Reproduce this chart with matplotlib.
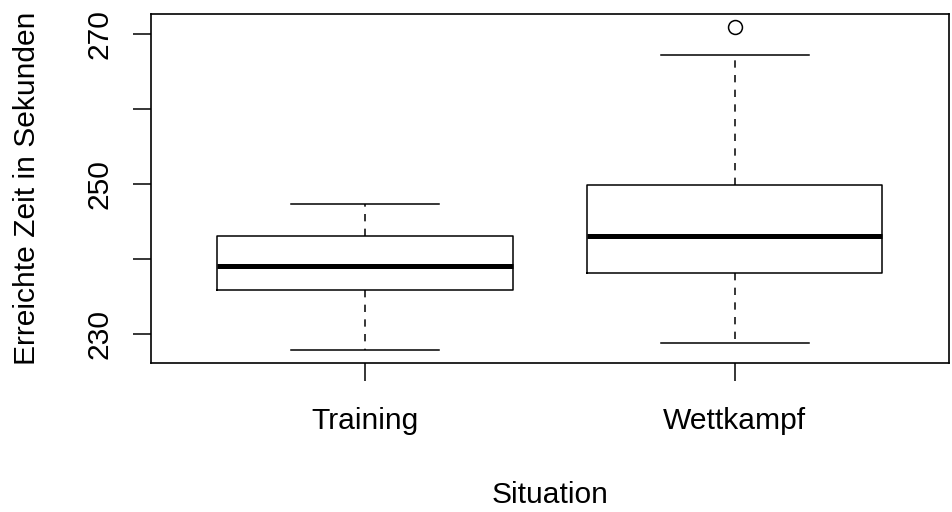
import matplotlib
matplotlib.use("Agg")
import matplotlib.pyplot as plt

plt.rcParams['font.family'] = ['Liberation Sans', 'DejaVu Sans']

categories = ["Training", "Wettkampf"]
whisker_low = [227.96, 228.89]
q1 = [235.96, 238.13]
median = [239.16, 243.16]
q3 = [243.1, 249.9]
whisker_high = [247.37, 267.29]
outliers = [[], [270.97]]
yticks = [230, 240, 250, 260, 270]
ytick_labels = ["230", "", "250", "", "270"]

stats = []
for i, c in enumerate(categories):
    stats.append(dict(label=c, whislo=whisker_low[i], q1=q1[i], med=median[i],
                      q3=q3[i], whishi=whisker_high[i], fliers=outliers[i]))

fig = plt.figure(figsize=(9.53, 5.12), dpi=100)
ax = fig.add_axes([0.158, 0.2916, 0.8378, 0.6811])

lw = 1.1
ax.bxp(stats, positions=[1, 2], widths=0.8, showfliers=True,
       boxprops=dict(color='black', linewidth=lw),
       medianprops=dict(color='black', linewidth=3.6, solid_capstyle='butt'),
       whiskerprops=dict(color='black', linewidth=lw, linestyle=(0, (4.8, 4.8))),
       capprops=dict(color='black', linewidth=lw),
       capwidths=0.4,
       flierprops=dict(marker='o', markersize=10, markerfacecolor='none',
                       markeredgecolor='black', markeredgewidth=lw))

ax.set_xlim(0.42, 2.58)
ax.set_ylim(226.24, 272.69)
ax.set_yticks(yticks)
ax.set_yticklabels(ytick_labels, rotation=90, va='center')
ax.set_xticks([1, 2])
ax.set_xticklabels(categories)
ax.tick_params(axis='both', length=13, width=1.1, labelsize=21.6, direction='out')
ax.tick_params(axis='y', pad=14)
ax.tick_params(axis='x', pad=19)
for s in ax.spines.values():
    s.set_linewidth(1.2)

ax.set_xlabel("Situation", fontsize=21.6)
ax.set_ylabel("Erreichte Zeit in Sekunden", fontsize=21.6)
ax.xaxis.set_label_coords(0.5, -0.34)
ax.yaxis.set_label_coords(-0.137, 0.5)

fig.savefig("out.png", dpi=100)
